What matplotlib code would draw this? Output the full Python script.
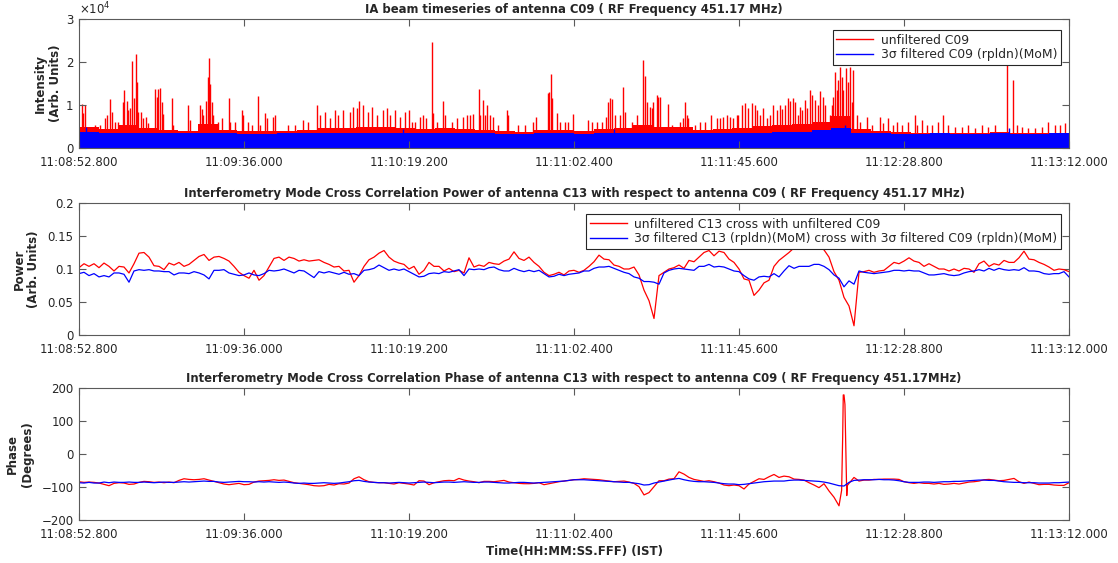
import matplotlib
matplotlib.use("Agg")
import matplotlib.pyplot as plt
from matplotlib.lines import Line2D
import numpy as np

plt.rcParams['font.family'] = ['DejaVu Sans']

# ---------------- data ----------------
T_END = 259.2  # seconds shown on the time axis
time_tick_labels = ['11:08:52.800', '11:09:36.000', '11:10:19.200', '11:11:02.400',
                    '11:11:45.600', '11:12:28.800', '11:13:12.000']

# Panel 1: intensity (dense timeseries), binned envelopes + individual spikes
red_base = [4800, 4400, 5400, 4600, 4300, 4000, 5600, 4200, 3900, 3900,
            4000, 4300, 4600, 4700, 4800, 4800, 4700, 4500, 4600, 4400,
            4200, 4000, 3800, 4100, 4200, 3900, 4500, 4700, 5400, 5000,
            5000, 4200, 4500, 4700, 5200, 5400, 5600, 6000, 7400, 4400,
            3900, 3700, 3600, 3600, 3600, 3500, 3700, 3500, 3600, 3600]
blue_top = [3800, 3500, 3600, 3500, 3400, 3400, 3600, 3400, 3300, 3300,
            3400, 3400, 3500, 3500, 3500, 3500, 3400, 3400, 3500, 3400,
            3400, 3300, 3300, 3400, 3400, 3300, 3500, 3500, 3600, 3500,
            3500, 3400, 3500, 3500, 3600, 3700, 3800, 4100, 4600, 3500,
            3400, 3300, 3300, 3400, 3300, 3300, 3400, 3300, 3300, 3400]
spike_t = [0.70, 1.13, 1.57, 4.19, 5.50, 6.81, 7.24, 8.12, 8.55, 9.42, 10.30, 11.43, 11.87, 12.48, 12.92, 13.35,
           13.79, 14.31, 14.92, 15.27, 15.53, 16.23, 16.84, 17.54, 17.98, 19.90, 20.33, 20.77, 21.21, 21.64, 22.08,
           24.26, 24.70, 28.62, 29.06, 31.68, 32.11, 32.55, 33.25, 33.68, 34.03, 34.38, 34.73, 35.17, 36.48, 37.35,
           39.27, 39.53, 40.84, 42.58, 43.02, 44.33, 45.20, 46.95, 47.39, 48.70, 49.13, 50.88, 51.31, 54.80, 56.55,
           58.73, 60.04, 62.22, 63.09, 64.40, 65.71, 67.02, 67.89, 69.21, 70.95, 71.82, 72.69, 73.39, 74.44, 75.75,
           76.62, 77.93, 79.68, 80.55, 81.42, 82.73, 84.04, 85.35,
           86.39, 87.09, 87.96, 89.27, 90.14, 90.76, 92.33, 92.76, 93.63, 95.20, 95.82, 97.57, 98.87, 100.62, 101.49,
           102.36, 103.24, 104.72, 105.07, 105.68, 106.29, 106.81, 107.60, 108.30, 109.78, 111.96, 112.40, 115.01,
           116.76, 118.94, 119.56, 122.70, 123.05, 123.48, 123.74, 125.05, 125.93, 127.23, 128.10, 129.24, 133.17,
           134.21, 135.52, 136.83, 137.97, 138.58, 139.02, 139.45, 140.32, 141.63, 142.51, 142.94, 144.69, 146.00,
           147.75, 148.18, 148.62, 149.49, 149.93, 150.36, 151.23, 151.67, 152.11, 154.28, 155.16, 157.34, 158.21,
           158.65, 159.08, 159.52, 161.27, 162.58, 163.89, 165.46, 166.94, 167.81, 168.69, 169.56, 170.43, 171.31,
           172.18,
           172.61, 173.49, 174.36, 175.23, 176.10, 176.98, 177.41, 178.28, 179.16, 180.03, 180.90, 181.78, 182.65,
           183.52, 183.96, 184.83, 185.70, 186.14, 187.01, 187.45, 188.32, 188.76, 189.19, 190.07, 190.50, 191.38,
           191.81, 192.68, 193.56, 193.99, 194.86, 195.30, 196.61, 197.05, 197.48, 197.92, 198.36, 198.79, 199.23,
           199.67, 200.10, 200.80, 201.41, 201.85, 202.29, 202.72, 203.59, 204.47, 206.21, 207.52, 209.70, 210.57,
           211.88, 213.19, 214.06, 215.37, 217.12, 218.87, 219.30, 220.61, 221.92, 223.23, 224.97, 226.28, 227.59,
           229.34, 231.08, 232.83, 234.57, 236.32, 238.06, 239.81, 243.03, 244.60, 245.47, 246.78, 248.53, 250.28,
           252.02, 253.77, 255.52, 256.83, 258.14]
spike_v = [10160, 8060, 10000, 5350, 5350, 6900, 7680, 11400, 8450, 6130, 6130, 10620, 13490, 11000, 8840, 9230,
           20310, 11550, 21790, 15430, 8450, 8300, 6900, 7290, 5740, 13720, 11940, 13720, 14000, 10780, 8000,
           11550, 5350, 10000, 6500, 10000, 9000, 7680, 10930, 16500, 21010, 15000, 10780, 7680, 6130, 6900,
           11550, 6130, 6130, 8840, 7680, 6130, 5350, 12100, 5350, 8060, 7000, 7290, 7680, 5350, 5350,
           6500, 6130, 10000, 7680, 8450, 6900, 8840, 7680, 8840, 8450, 9610, 9230, 10930, 10000, 8450,
           9610, 7680, 8840, 9230, 7680, 8840, 7290, 8450,
           8840, 6130, 6130, 7290, 7680, 6900, 24580, 8060, 6130, 10930, 7680, 6130, 6900, 7290, 7680,
           7680, 7830, 13720, 7680, 11160, 7680, 10000, 7680, 7290, 5350, 8840, 7680, 5350,
           5350, 6130, 7290, 12870, 13100, 17140, 11550, 8060, 6130, 6130, 6130, 7830, 6510,
           6130, 6130, 6130, 7290, 10620, 11550, 11400, 7680, 7680, 14190, 8450, 6130, 7680,
           20470, 16750, 10780, 9610, 9230, 10780, 12330, 11940, 11750, 10160, 5350, 6130, 6900,
           10620, 7680, 6900, 5350, 6130, 6130, 7680, 6900, 6900, 7290, 7680, 7290, 6900,
           7680,
           7680, 10000, 10390, 9230, 10390, 10000, 8840, 7680, 9230, 6900, 7680, 10000, 8840,
           10000, 9000, 10000, 11550, 10930, 11550, 10780, 7680, 9610, 8840, 11160, 9380, 13490,
           12330, 11160, 10000, 13260, 11940, 10000, 7680, 10000, 11940, 17600, 13490, 15820, 18900,
           16590, 13490, 18530, 15430, 18900, 10780, 18140, 7680, 6130, 7290, 5350, 7290, 5740,
           6900, 5350, 6130, 5350, 6130, 7680, 5350, 6510, 5350, 5350, 6130, 7680, 5350,
           4960, 4960, 5350, 4570, 5350, 4960, 5350, 19310, 15820, 5350, 4960, 4570, 4570,
           4960, 6130, 5350, 5350, 5740]
blue_spike_t = [1.8, 84.8, 140.0, 200.5, 243.5]
blue_spike_v = [4950, 4500, 4500, 5300, 4700]

# Panel 2: cross-correlation power (uniformly sampled)
power_red = [0.102, 0.108, 0.104, 0.108, 0.102, 0.109, 0.104, 0.097, 0.104, 0.103,
             0.094, 0.108, 0.124, 0.125, 0.118, 0.105, 0.104, 0.099, 0.109, 0.106,
             0.110, 0.104, 0.107, 0.113, 0.119, 0.122, 0.113, 0.118, 0.119, 0.116,
             0.112, 0.104, 0.095, 0.090, 0.086, 0.098, 0.083, 0.090, 0.103, 0.116,
             0.118, 0.113, 0.118, 0.116, 0.112, 0.114, 0.112, 0.113, 0.114, 0.110,
             0.107, 0.103, 0.104, 0.097, 0.098, 0.080, 0.090, 0.104, 0.114, 0.118,
             0.124,
             0.128, 0.118, 0.112, 0.109, 0.107, 0.100, 0.104, 0.092, 0.098, 0.110,
             0.104, 0.104, 0.097, 0.101, 0.096, 0.098, 0.094, 0.117, 0.103, 0.106,
             0.104, 0.110, 0.108, 0.107, 0.112, 0.115, 0.126, 0.116, 0.113, 0.118,
             0.110, 0.104, 0.095, 0.090, 0.092, 0.095, 0.091, 0.097, 0.098, 0.095,
             0.098, 0.104, 0.111, 0.121, 0.115, 0.114, 0.106, 0.104, 0.100, 0.100,
             0.103, 0.091, 0.068, 0.052, 0.025, 0.090, 0.095, 0.100, 0.102, 0.106,
             0.101, 0.113, 0.111, 0.118, 0.125, 0.128, 0.120, 0.127, 0.125, 0.115,
             0.110, 0.100, 0.085, 0.083, 0.060, 0.068, 0.079, 0.083, 0.104, 0.113,
             0.119, 0.125, 0.132, 0.135, 0.135, 0.136, 0.133, 0.133, 0.129, 0.118,
             0.096, 0.083, 0.057, 0.044, 0.014, 0.095, 0.096, 0.098, 0.095, 0.097,
             0.098, 0.104, 0.110, 0.108, 0.112, 0.117, 0.112, 0.110, 0.104, 0.108,
             0.104, 0.100, 0.100, 0.097, 0.100, 0.097, 0.101, 0.100, 0.095, 0.108,
             0.112, 0.104, 0.108, 0.106, 0.113, 0.110, 0.110, 0.117, 0.127, 0.115,
             0.114, 0.110, 0.107, 0.103, 0.098, 0.100, 0.099, 0.096]
power_blue = [0.093, 0.095, 0.090, 0.093, 0.088, 0.090, 0.088, 0.094, 0.094, 0.092,
              0.080, 0.097, 0.099, 0.098, 0.099, 0.097, 0.097, 0.096, 0.096, 0.091,
              0.094, 0.094, 0.093, 0.096, 0.094, 0.091, 0.085, 0.098, 0.098, 0.099,
              0.094, 0.092, 0.090, 0.091, 0.094, 0.091, 0.090, 0.093, 0.098, 0.097,
              0.098, 0.100, 0.097, 0.094, 0.098, 0.097, 0.092, 0.087, 0.096, 0.094,
              0.096, 0.094, 0.092, 0.095, 0.092, 0.093, 0.090, 0.098, 0.099, 0.101,
              0.106,
              0.102, 0.098, 0.100, 0.098, 0.100, 0.096, 0.092, 0.088, 0.089, 0.093,
              0.094, 0.093, 0.096, 0.095, 0.097, 0.099, 0.090, 0.100, 0.099, 0.100,
              0.099, 0.102, 0.103, 0.099, 0.097, 0.097, 0.101, 0.098, 0.096, 0.098,
              0.096, 0.098, 0.093, 0.088, 0.089, 0.092, 0.090, 0.092, 0.093, 0.094,
              0.097, 0.097, 0.101, 0.103, 0.103, 0.104, 0.101, 0.098, 0.095, 0.093,
              0.088, 0.086, 0.081, 0.081, 0.080, 0.077, 0.094, 0.098, 0.100, 0.101,
              0.100, 0.099, 0.098, 0.104, 0.104, 0.107, 0.103, 0.104, 0.103, 0.100,
              0.097, 0.096, 0.090, 0.085, 0.083, 0.088, 0.089, 0.088, 0.093, 0.088,
              0.097, 0.105, 0.101, 0.104, 0.104, 0.104, 0.107, 0.107, 0.104, 0.099,
              0.091, 0.086, 0.073, 0.082, 0.077, 0.097, 0.095, 0.094, 0.093, 0.094,
              0.095, 0.096, 0.098, 0.098, 0.097, 0.098, 0.097, 0.097, 0.094, 0.091,
              0.091, 0.092, 0.093, 0.091, 0.090, 0.091, 0.094, 0.096, 0.097, 0.099,
              0.097, 0.101, 0.098, 0.101, 0.099, 0.098, 0.099, 0.098, 0.102, 0.097,
              0.097, 0.096, 0.093, 0.092, 0.093, 0.093, 0.096, 0.088]

# Panel 3: cross-correlation phase (uniformly sampled) + extra samples in the fast wrap at ~200 s
phase_red = [-84, -86, -85, -86, -88, -92, -96, -89, -87, -88,
             -92, -91, -86, -83, -84, -86, -85, -87, -85, -87,
             -80, -75, -77, -78, -77, -75, -79, -83, -87, -91,
             -93, -91, -89, -93, -92, -85, -82, -81, -80, -78,
             -80, -79, -83, -87, -89, -91, -93, -96, -97, -96,
             -92, -94, -90, -91, -88, -75, -69, -78, -84, -86,
             -87,
             -87, -89, -91, -87, -89, -91, -94, -81, -82, -93,
             -87, -84, -81, -80, -81, -74, -79, -82, -84, -87,
             -83, -83, -84, -82, -80, -85, -87, -89, -90, -90,
             -89, -87, -93, -90, -87, -84, -82, -80, -78, -77,
             -75, -76, -77, -78, -80, -82, -84, -83, -82, -85,
             -89, -99, -124, -117, -99, -81, -81, -76, -75, -54,
             -61, -71, -77, -80, -83, -81, -84, -88, -94, -96,
             -94, -96, -106, -91, -83, -75, -77, -69, -62, -71,
             -67, -69, -76, -77, -79, -87, -94, -102, -90, -112,
             -131, -157, 179, -89, -71, -82, -79, -79, -77, -77,
             -76, -76, -76, -77, -84, -87, -89, -87, -89, -89,
             -91, -89, -92, -91, -89, -91, -88, -85, -84, -82,
             -78, -77, -79, -81, -80, -77, -74, -84, -89, -85,
             -89, -93, -92, -92, -94, -95, -95, -87]
phase_red_extra_t = [199.67, 199.94, 200.10, 200.54, 200.72, 200.88, 201.01, 201.19]
phase_red_extra_v = [-110, 50, 179, 150, 40, -60, -126, -95]
phase_blue = [-87, -88, -86, -88, -88, -85, -87, -85, -86, -86,
              -85, -86, -86, -85, -86, -87, -86, -85, -86, -86,
              -85, -84, -85, -84, -83, -82, -83, -83, -85, -86,
              -85, -84, -83, -84, -84, -85, -84, -85, -84, -85,
              -86, -85, -86, -88, -89, -88, -89, -89, -88, -87,
              -88, -89, -88, -86, -84, -81, -80, -83, -85, -86,
              -87,
              -87, -88, -87, -86, -87, -88, -87, -86, -85, -86,
              -87, -86, -85, -85, -86, -85, -84, -85, -86, -86,
              -85, -85, -86, -87, -88, -88, -87, -86, -86, -87,
              -88, -87, -86, -85, -84, -83, -82, -80, -78, -78,
              -78, -79, -80, -81, -82, -83, -84, -85, -86, -86,
              -88, -90, -94, -93, -88, -85, -82, -79, -76, -74,
              -78, -81, -83, -84, -84, -85, -86, -88, -90, -91,
              -91, -93, -92, -90, -88, -86, -84, -83, -82, -82,
              -82, -80, -79, -79, -80, -81, -82, -83, -85, -88,
              -92, -96, -97, -86, -80, -79, -78, -78, -78, -77,
              -78, -78, -79, -81, -84, -86, -86, -86, -85, -85,
              -86, -85, -84, -84, -83, -83, -82, -81, -80, -79,
              -79, -80, -80, -82, -84, -85, -86, -86, -87, -87,
              -87, -88, -88, -88, -87, -87, -86, -85]

# ---------------- figure ----------------
RED = '#ff0000'
BLUE = '#0000ff'
TXT = '#262626'
AXC = '#5a5a5a'
TITLE_FS = 8.4
TICK_FS = 8.5
LEG_FS = 8.9

W, H = 1118, 563
fig = plt.figure(figsize=(W / 100, H / 100), dpi=100)


def box(l, t, r, b):
    return [l / W, 1 - b / H, (r - l) / W, (b - t) / H]


ax1 = fig.add_axes(box(79, 19, 1069, 148))
ax2 = fig.add_axes(box(79, 203, 1069, 335))
ax3 = fig.add_axes(box(79, 388, 1069, 520))

tick_pos = np.linspace(0, T_END, len(time_tick_labels))


def style(ax):
    ax.set_xlim(0, T_END)
    ax.set_xticks(tick_pos)
    ax.set_xticklabels(time_tick_labels)
    ax.tick_params(direction='in', top=True, right=True, length=5, width=0.8,
                   color=AXC, labelsize=TICK_FS, labelcolor=TXT)
    ax.tick_params(axis='x', pad=5.5)
    ax.tick_params(axis='y', pad=4)
    for s in ax.spines.values():
        s.set_color(AXC)
        s.set_linewidth(0.8)
        s.set_zorder(5)


def make_legend(ax, labels, top_px):
    leg = ax.legend([Line2D([], [], color=RED, lw=1), Line2D([], [], color=BLUE, lw=1)], labels,
                    loc='upper right', bbox_to_anchor=(1061 / W, 1 - top_px / H),
                    bbox_transform=fig.transFigure, fontsize=LEG_FS, fancybox=False,
                    edgecolor=TXT, framealpha=1, borderpad=0.3, labelspacing=0.12,
                    handlelength=3.0, handletextpad=0.6, borderaxespad=0)
    leg.get_frame().set_linewidth(0.8)
    leg.set_zorder(10)
    for txt in leg.get_texts():
        txt.set_color(TXT)


# Panel 1 (red first, blue drawn on top of it)
edges = np.linspace(0, T_END, len(red_base) + 1)
ax1.fill_between(edges, 0, list(red_base) + [red_base[-1]], step='post', color=RED, lw=0, zorder=1.0)
ax1.vlines(spike_t, 0, spike_v, color=RED, lw=1.0, zorder=1.1)
edges_b = np.linspace(0, T_END, len(blue_top) + 1)
ax1.fill_between(edges_b, 0, list(blue_top) + [blue_top[-1]], step='post', color=BLUE, lw=0, zorder=1.2)
ax1.vlines(blue_spike_t, 0, blue_spike_v, color=BLUE, lw=1.0, zorder=1.3)
style(ax1)
ax1.set_ylim(0, 30000)
ax1.set_yticks([0, 10000, 20000, 30000])
ax1.set_yticklabels(['0', '1', '2', '3'])
ax1.text(0.0, 1.015, r'$\times 10^{4}$', transform=ax1.transAxes, fontsize=TICK_FS, color=TXT,
         ha='left', va='bottom')
ax1.set_title('IA beam timeseries of antenna C09 ( RF Frequency 451.17 MHz)',
              fontsize=TITLE_FS, fontweight='bold', color=TXT, pad=4)
ax1.set_ylabel('Intensity\n(Arb. Units)', fontsize=8.5, fontweight='bold', color=TXT, labelpad=3)
make_legend(ax1, ['unfiltered C09', '3σ filtered C09 (rpldn)(MoM)'], 30)

# Panel 2
t2r = np.linspace(0, T_END, len(power_red))
t2b = np.linspace(0, T_END, len(power_blue))
ax2.plot(t2r, power_red, color=RED, lw=0.9)
ax2.plot(t2b, power_blue, color=BLUE, lw=0.9)
style(ax2)
ax2.set_ylim(0, 0.2)
ax2.set_yticks([0, 0.05, 0.1, 0.15, 0.2])
ax2.set_yticklabels(['0', '0.05', '0.1', '0.15', '0.2'])
ax2.set_title('Interferometry Mode Cross Correlation Power of antenna C13 with respect to antenna C09 ( RF Frequency 451.17 MHz)',
              fontsize=TITLE_FS, fontweight='bold', color=TXT, pad=4)
ax2.set_ylabel('Power\n(Arb. Units)', fontsize=8.5, fontweight='bold', color=TXT, labelpad=5)
make_legend(ax2, ['unfiltered C13 cross with unfiltered C09',
                  '3σ filtered C13 (rpldn)(MoM) cross with 3σ filtered C09 (rpldn)(MoM)'], 214)

# Panel 3
t3 = np.linspace(0, T_END, len(phase_red))
t3_all = np.concatenate([t3, phase_red_extra_t])
v3_all = np.concatenate([phase_red, phase_red_extra_v])
order = np.argsort(t3_all)
ax3.plot(t3_all[order], v3_all[order], color=RED, lw=0.9)
t3b = np.linspace(0, T_END, len(phase_blue))
ax3.plot(t3b, phase_blue, color=BLUE, lw=0.9)
style(ax3)
ax3.set_ylim(-200, 200)
ax3.set_yticks([-200, -100, 0, 100, 200])
ax3.set_title('Interferometry Mode Cross Correlation Phase of antenna C13 with respect to antenna C09 ( RF Frequency 451.17MHz)',
              fontsize=TITLE_FS, fontweight='bold', color=TXT, pad=4)
ax3.set_ylabel('Phase\n(Degrees)', fontsize=8.5, fontweight='bold', color=TXT, labelpad=5)
ax3.set_xlabel('Time(HH:MM:SS.FFF) (IST)', fontsize=8.5, fontweight='bold', color=TXT, labelpad=3)

fig.savefig('out.png', dpi=100, facecolor='white')
